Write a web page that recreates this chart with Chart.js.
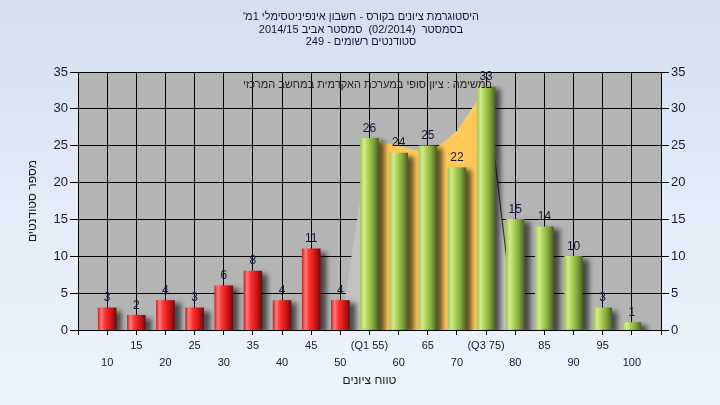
<!DOCTYPE html>
<html><head><meta charset="utf-8">
<script src="https://cdn.jsdelivr.net/npm/chart.js@4/dist/chart.umd.min.js"></script>
<style>
html,body{margin:0;padding:0;}
body{width:720px;height:405px;overflow:hidden;background:linear-gradient(to bottom,#d3dff0 0%,#e3ecf8 50%,#eef4fc 100%);}
canvas{display:block;}
</style></head>
<body>
<canvas id="c" width="720" height="405"></canvas>
<script>
// ---- data ----
const categories = [10,15,20,25,30,35,40,45,50,55,60,65,70,75,80,85,90,95,100];
const tickLabels = ['10','15','20','25','30','35','40','45','50','(Q1 55)','60','65','70','(Q3 75)','80','85','90','95','100'];
const students   = [3,2,4,3,6,8,4,11,4,26,24,25,22,33,15,14,10,3,1];
const passFrom = 55;
// inter-quartile band outline
const bandTopX = [55,56.5,63.3,66.6,70,73.4,75];
const bandTopY = [26,25.6,24.3,24.8,27,31,33];
const shadeStartX = 50;
const shadeEndX = 80;
const titleLines = [
  "היסטוגרמת ציונים בקורס - חשבון אינפיניטסימלי 1מ'",
  "בסמסטר  (02/2014)  סמסטר אביב 2014/15",
  "סטודנטים רשומים - 249"
];
const yTitle = 'מספר סטודנטים';
const xTitle = 'טווח ציונים';
const noteText = 'במשימה : ציון סופי במערכת האקדמית במחשב המרכזי';

const FONT = '"Liberation Sans","DejaVu Sans",Arial,sans-serif';
const TXT = '#16163a';

const barPoints = categories.map((c,i)=>({x:c,y:students[i]}));
const bandPoints = [{x:bandTopX[0],y:0}].concat(bandTopX.map((x,i)=>({x:x,y:bandTopY[i]})), [{x:bandTopX[bandTopX.length-1],y:0}]);
const shadePoints = [{x:shadeStartX,y:0}].concat(bandTopX.map((x,i)=>({x:x,y:bandTopY[i]})), [{x:shadeEndX,y:0}]);

function barFill(ctx){
  const chart = ctx.chart;
  if (!chart.chartArea || ctx.type !== 'data') return '#e02020';
  const cat = categories[ctx.dataIndex];
  const px = chart.scales.x.getPixelForValue(cat);
  const g = chart.ctx.createLinearGradient(px-9,0,px+9,0);
  if (cat < passFrom){
    g.addColorStop(0,'#cc2a2a'); g.addColorStop(0.18,'#ff7a7a'); g.addColorStop(0.38,'#ff3434');
    g.addColorStop(0.65,'#dc1a1a'); g.addColorStop(0.88,'#9c1010'); g.addColorStop(1,'#6e0c0c');
  } else {
    g.addColorStop(0,'#a6c65a'); g.addColorStop(0.2,'#d2ec8c'); g.addColorStop(0.42,'#acd254');
    g.addColorStop(0.7,'#86a640'); g.addColorStop(0.9,'#5e7a2c'); g.addColorStop(1,'#4a6224');
  }
  return g;
}

const bgPlugin = {
  id:'plotBg',
  beforeDraw(chart){
    const {ctx, chartArea:a} = chart;
    ctx.save(); ctx.fillStyle = '#b4b4b4';
    ctx.fillRect(a.left, a.top, a.right-a.left, a.bottom-a.top);
    ctx.restore();
  }
};
const shadowPlugin = {
  id:'barShadow',
  beforeDatasetDraw(chart,args){
    if (args.index !== 0) return;
    const ctx = chart.ctx; ctx.save();
    ctx.shadowColor = 'rgba(0,0,0,0.6)'; ctx.shadowBlur = 5; ctx.shadowOffsetX = 6; ctx.shadowOffsetY = 3;
  },
  afterDatasetDraw(chart,args){ if (args.index === 0) chart.ctx.restore(); }
};
const textPlugin = {
  id:'texts',
  afterDraw(chart){
    const ctx = chart.ctx, a = chart.chartArea;
    ctx.save();
    // value labels
    ctx.font = '12px ' + FONT; ctx.fillStyle = TXT; ctx.textAlign = 'center'; ctx.textBaseline = 'bottom';
    chart.getDatasetMeta(0).data.forEach((el,i)=>{ ctx.fillText(String(students[i]), el.x, el.y - 4); });
    // note
    ctx.font = '11px ' + FONT;
    ctx.direction = 'rtl'; ctx.textAlign = 'center'; ctx.textBaseline = 'middle';
    ctx.fillStyle = '#2a2020';
    ctx.fillText(noteText, (a.left + a.right)/2 - 2, a.top + 13);
    // title
    ctx.fillStyle = TXT;
    titleLines.forEach((t,i)=> ctx.fillText(t, 361, 17 + i*12.5));
    ctx.restore();
  }
};

new Chart(document.getElementById('c'), {
  type:'bar',
  data:{ datasets:[
    { type:'bar', data:barPoints, order:0, backgroundColor:barFill, borderWidth:0, barThickness:18, grouped:false },
    { type:'line', data:bandPoints, order:1, fill:'origin', backgroundColor:'#ffc95a', borderWidth:0, pointRadius:0, tension:0 },
    { type:'line', data:shadePoints, order:2, fill:'origin', backgroundColor:'#c2c2c2', borderWidth:1.2, pointRadius:0, tension:0,
      segment:{ borderColor: c => c.p0DataIndex === shadePoints.length-2 ? '#3a3a3a' : 'rgba(0,0,0,0)' } }
  ]},
  options:{
    responsive:false, animation:false, devicePixelRatio:1,
    layout:{ padding:{ top:72, left:0, right:0, bottom:0 } },
    plugins:{ legend:{display:false}, tooltip:{enabled:false}, title:{display:false} },
    scales:{
      x:{ type:'linear', min:5, max:105, offset:false,
        grid:{ offset:false, color:'#000', lineWidth:1, tickLength:5, tickColor:'#000' },
        border:{ color:'#000', width:1 },
        ticks:{ stepSize:5, autoSkip:false, maxRotation:0, minRotation:0, padding:2, color:TXT,
          font:{ family:FONT, size:11, lineHeight:1.55 },
          callback:(v)=>{ const i = categories.indexOf(v); if (i < 0) return ''; return i % 2 === 1 ? [tickLabels[i], ''] : ['', tickLabels[i]]; } },
        title:{ display:true, text:xTitle, color:'#1a1a1a', font:{ family:FONT, size:12 }, padding:{ top:0, bottom:17 } },
        afterFit:(s)=>{ s.height = 75; }
      },
      y:{ position:'left', min:0, max:35,
        grid:{ color:'#000', lineWidth:1, tickLength:8, tickColor:'#000' },
        border:{ color:'#000', width:1 },
        ticks:{ stepSize:5, padding:2, color:TXT, font:{ family:FONT, size:13 } },
        title:{ display:true, text:yTitle, color:'#1a1a1a', font:{ family:FONT, size:12 }, padding:{ top:25, bottom:0 } },
        afterFit:(s)=>{ s.width = 78; }
      },
      y2:{ position:'right', min:0, max:35,
        grid:{ drawOnChartArea:false, color:'#000', tickLength:8, tickColor:'#000' },
        border:{ color:'#000', width:1 },
        ticks:{ stepSize:5, padding:2, color:TXT, font:{ family:FONT, size:13 } },
        afterFit:(s)=>{ s.width = 59; }
      }
    }
  },
  plugins:[bgPlugin, shadowPlugin, textPlugin]
});
</script>
</body></html>
